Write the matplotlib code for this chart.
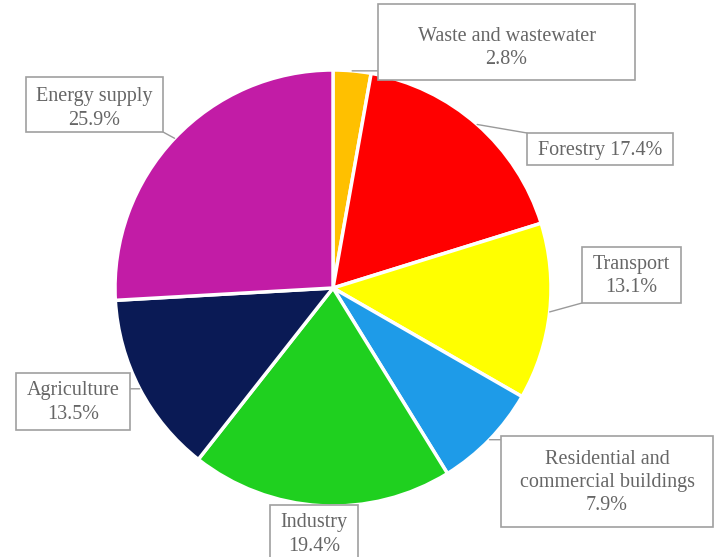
import numpy as np
import matplotlib.pyplot as plt
from matplotlib.patches import Rectangle

plt.rcParams['font.family'] = ['Liberation Serif', 'DejaVu Serif']

sectors = ['Waste and wastewater', 'Forestry', 'Transport',
           'Residential and\ncommercial buildings', 'Industry',
           'Agriculture', 'Energy supply']
shares = [2.8, 17.4, 13.1, 7.9, 19.4, 13.5, 25.9]
colors = ['#FFC000', '#FF0000', '#FFFF00', '#1E9BE8',
          '#1FD01F', '#0A1A55', '#C21CA6']

# label boxes: left, top, right, bottom in pixels from the top-left corner
boxes = [(378, 4, 635, 80), (527, 133, 673, 165), (582, 247, 681, 303),
         (501, 436, 713, 527), (270, 505, 358, 562), (16, 373, 130, 430),
         (26, 77, 163, 132)]
# vertical nudge of each label inside its box
nudges = [6, 1, 1, 1, 1, 1, 4]

W, H = 714, 557
fig = plt.figure(figsize=(W / 100, H / 100), dpi=100)
cx, cy, r = 333, 288, 218
ax = fig.add_axes([(cx - r) / W, (H - cy - r) / H, 2 * r / W, 2 * r / H])

wedges, _ = ax.pie(shares, colors=colors, startangle=90, counterclock=False,
                   wedgeprops=dict(edgecolor='white', linewidth=2.5))
ax.set_xlim(-1, 1)
ax.set_ylim(-1, 1)
ax.set_aspect('equal')


def fig_frac(px, py):
    return px / W, 1 - py / H


for w, name, val, (x0, y0, x1, y1), dy in zip(wedges, sectors, shares, boxes, nudges):
    # box outline and label
    fig.add_artist(Rectangle(fig_frac(x0, y1), (x1 - x0) / W, (y1 - y0) / H,
                             transform=fig.transFigure, fc='white',
                             ec='#a0a0a0', lw=1.2, zorder=3))
    sep = ' ' if name == 'Forestry' else '\n'
    fig.text(*fig_frac((x0 + x1) / 2, (y0 + y1) / 2 + dy), f'{name}{sep}{val}%',
             ha='center', va='center', fontsize=14.5, color='#666666',
             linespacing=1.3, zorder=4)

    # leader line from the wedge rim to the nearest point of the box
    mid = np.deg2rad((w.theta1 + w.theta2) / 2)
    ex, ey = cx + r * np.cos(mid), cy - r * np.sin(mid)
    tx, ty = np.clip(ex, x0, x1), np.clip(ey, y0, y1)
    ax.annotate('', xy=(np.cos(mid), np.sin(mid)),
                xytext=fig_frac(tx, ty), textcoords='figure fraction',
                arrowprops=dict(arrowstyle='-', color='#9a9a9a', lw=1,
                                shrinkA=0, shrinkB=0))

fig.savefig('out.png', dpi=100)
